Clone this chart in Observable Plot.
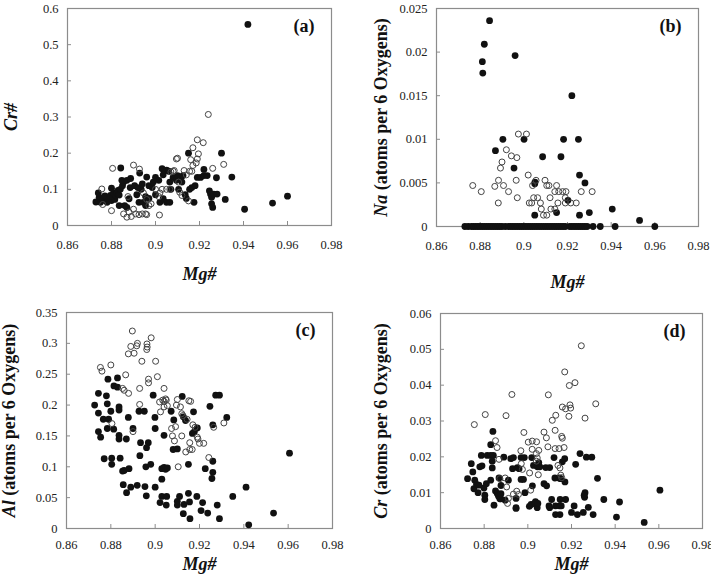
<!DOCTYPE html>
<html>
<head>
<meta charset="utf-8">
<script src="https://cdn.jsdelivr.net/npm/d3@7"></script>
<script src="https://cdn.jsdelivr.net/npm/@observablehq/plot@0.6"></script>
<style>
  body { margin: 0; background: #fff; }
  #chart { position: relative; width: 711px; height: 574px; overflow: hidden; background: #fff; }
  #chart svg { position: absolute; overflow: visible; }
</style>
</head>
<body>
<div id="chart"></div>
<script>
// Shared Mg# axis
const mgTicks = [0.86, 0.88, 0.9, 0.92, 0.94, 0.96, 0.98];

// (a) Cr# vs Mg#  — [Mg#, Cr#]
const crNumTicks = [0, 0.1, 0.2, 0.3, 0.4, 0.5, 0.6];
const crNumFilled = [
  [0.8729,0.065],[0.8744,0.078],[0.875,0.064],[0.874,0.09],[0.876,0.07],[0.877,0.082],[0.878,0.064],
  [0.879,0.074],[0.8795,0.083],[0.880,0.069],[0.8805,0.078],[0.881,0.09],[0.8815,0.072],[0.882,0.083],
  [0.8825,0.09],[0.883,0.097],[0.8835,0.084],[0.884,0.1],[0.885,0.11],[0.8855,0.12],[0.880,0.103],
  [0.8842,0.159],[0.8835,0.055],[0.886,0.055],[0.887,0.05],[0.888,0.074],[0.8847,0.125],[0.887,0.125],
  [0.8887,0.13],[0.8885,0.105],[0.8905,0.11],[0.892,0.105],[0.8928,0.145],[0.8925,0.064],[0.8945,0.064],
  [0.8955,0.055],[0.896,0.134],[0.897,0.11],[0.8985,0.105],[0.899,0.12],[0.900,0.133],[0.9015,0.125],
  [0.903,0.157],[0.905,0.153],[0.9035,0.14],[0.902,0.064],[0.9035,0.074],[0.905,0.064],[0.9065,0.064],
  [0.908,0.133],[0.9095,0.125],[0.910,0.138],[0.9115,0.133],[0.912,0.12],[0.9125,0.138],[0.915,0.2],
  [0.9155,0.1],[0.9165,0.105],[0.9175,0.064],[0.919,0.133],[0.9205,0.133],[0.922,0.138],[0.922,0.155],
  [0.9235,0.138],[0.9245,0.096],[0.925,0.087],[0.9255,0.078],[0.9255,0.06],[0.926,0.05],[0.9265,0.087],
  [0.928,0.087],[0.9277,0.132],[0.93,0.2],[0.9317,0.072],[0.9347,0.134],[0.9405,0.045],[0.9532,0.062],
  [0.960,0.081],[0.942,0.556],[0.8955,0.08],[0.897,0.075],[0.9,0.085],[0.9065,0.12],[0.907,0.1],
  [0.9135,0.085],[0.914,0.075],[0.918,0.11],[0.9105,0.1],[0.8915,0.085],[0.8935,0.1],[0.894,0.115],[0.906,0.15]
];
const crNumOpen = [
  [0.924,0.307],[0.919,0.237],[0.9217,0.229],[0.917,0.215],[0.9195,0.198],[0.919,0.184],[0.9185,0.173],
  [0.916,0.182],[0.917,0.166],[0.9095,0.184],[0.910,0.186],[0.926,0.158],[0.931,0.169],[0.8805,0.158],
  [0.890,0.167],[0.8927,0.156],[0.8756,0.101],[0.876,0.058],[0.880,0.041],[0.8855,0.032],[0.887,0.023],
  [0.888,0.037],[0.889,0.025],[0.890,0.045],[0.891,0.032],[0.8925,0.030],[0.894,0.032],[0.8955,0.032],
  [0.896,0.030],[0.9018,0.029],[0.8875,0.08],[0.8945,0.09],[0.896,0.072],[0.897,0.055],[0.898,0.06],
  [0.900,0.1],[0.9015,0.08],[0.902,0.09],[0.903,0.1],[0.905,0.1],[0.9065,0.1],[0.907,0.148],[0.9085,0.152],
  [0.9105,0.12],[0.911,0.092],[0.912,0.083],[0.913,0.152],[0.914,0.14],[0.915,0.068],[0.9155,0.15],
  [0.9165,0.15],[0.908,0.15]
];

// (b) Na (atoms per 6 oxygens) vs Mg#
const naTicks = [0, 0.005, 0.01, 0.015, 0.02, 0.025];
const naFilled = [
  [0.8843,0.0236],[0.8819,0.0209],[0.881,0.0189],[0.8812,0.0176],[0.896,0.0196],[0.922,0.015],
  [0.8904,0.01],[0.9001,0.01],[0.9182,0.01],[0.925,0.01],[0.887,0.0087],[0.9086,0.008],[0.917,0.008],
  [0.8955,0.0067],[0.9255,0.0059],[0.928,0.005],[0.9051,0.0051],[0.905,0.0049],[0.9202,0.003],
  [0.915,0.0016],[0.905,0.0013],[0.9255,0.0013],[0.930,0.0016],[0.9405,0.002],[0.953,0.0007],
  [0.873,0],[0.8745,0],[0.876,0],[0.877,0],[0.878,0],[0.879,0],[0.880,0],[0.881,0],[0.882,0],[0.883,0],
  [0.884,0],[0.885,0],[0.886,0],[0.887,0],[0.888,0],[0.889,0],[0.890,0],[0.8915,0],[0.893,0],[0.894,0],
  [0.895,0],[0.896,0],[0.897,0],[0.898,0],[0.899,0],[0.900,0],[0.901,0],[0.902,0],[0.903,0],[0.904,0],
  [0.905,0],[0.906,0],[0.907,0],[0.908,0],[0.909,0],[0.910,0],[0.911,0],[0.912,0],[0.913,0],[0.914,0],
  [0.915,0],[0.916,0],[0.917,0],[0.918,0],[0.919,0],[0.921,0],[0.922,0],[0.923,0],[0.924,0],[0.925,0],
  [0.926,0],[0.927,0],[0.928,0],[0.929,0],[0.9317,0],[0.935,0],[0.9418,0],[0.960,0]
];
const naOpen = [
  [0.8975,0.0106],[0.9012,0.0106],[0.892,0.0088],[0.8943,0.0081],[0.8968,0.0079],[0.890,0.0074],
  [0.8893,0.0067],[0.8884,0.0053],[0.8867,0.0046],[0.8907,0.0047],[0.893,0.004],[0.8766,0.0047],
  [0.8805,0.004],[0.8883,0.0027],[0.8965,0.0053],[0.897,0.0033],[0.902,0.0059],[0.9025,0.0027],
  [0.9036,0.0027],[0.904,0.0047],[0.9045,0.0033],[0.9063,0.0033],[0.9056,0.0053],[0.9076,0.0027],
  [0.908,0.002],[0.909,0.0013],[0.9105,0.0013],[0.9097,0.0053],[0.9105,0.0047],[0.9115,0.0047],
  [0.912,0.0033],[0.9124,0.002],[0.9142,0.002],[0.915,0.0047],[0.9142,0.004],[0.9156,0.0027],
  [0.916,0.004],[0.9178,0.004],[0.9193,0.004],[0.919,0.0033],[0.919,0.0027],[0.9215,0.0027],
  [0.924,0.0027],[0.9263,0.004],[0.9313,0.004]
];

// (c) Al (atoms per 6 oxygens) vs Mg#
const alTicks = [0, 0.05, 0.1, 0.15, 0.2, 0.25, 0.3, 0.35];
const alFilled = [
  [0.8727,0.2],[0.8744,0.219],[0.8744,0.187],[0.8744,0.157],[0.8754,0.148],[0.8766,0.177],[0.878,0.215],
  [0.8787,0.242],[0.8784,0.202],[0.879,0.177],[0.8784,0.162],[0.877,0.113],[0.88,0.19],[0.8804,0.114],
  [0.8804,0.104],[0.8814,0.231],[0.883,0.229],[0.883,0.244],[0.8813,0.161],[0.8837,0.197],[0.8837,0.192],
  [0.8837,0.151],[0.8837,0.145],[0.8842,0.114],[0.8853,0.093],[0.886,0.094],[0.8882,0.097],[0.887,0.145],
  [0.8879,0.18],[0.8856,0.071],[0.8871,0.058],[0.889,0.067],[0.89,0.162],[0.8919,0.07],[0.8927,0.19],
  [0.8951,0.19],[0.8934,0.139],[0.8969,0.139],[0.8931,0.118],[0.8961,0.131],[0.8958,0.1],[0.898,0.104],
  [0.8954,0.068],[0.896,0.053],[0.8991,0.216],[0.8999,0.18],[0.90,0.162],[0.90,0.067],[0.9022,0.042],
  [0.903,0.052],[0.9052,0.052],[0.903,0.08],[0.903,0.097],[0.904,0.099],[0.9047,0.096],[0.9055,0.098],
  [0.904,0.151],[0.905,0.038],[0.9072,0.19],[0.9084,0.176],[0.9081,0.128],[0.910,0.129],[0.91,0.044],
  [0.91,0.038],[0.911,0.052],[0.9122,0.214],[0.9127,0.181],[0.9137,0.175],[0.913,0.039],[0.9127,0.024],
  [0.915,0.104],[0.915,0.057],[0.9155,0.043],[0.9157,0.016],[0.9173,0.189],[0.9168,0.154],[0.9177,0.157],
  [0.919,0.163],[0.9188,0.052],[0.9207,0.029],[0.9214,0.042],[0.9226,0.097],[0.9237,0.025],[0.9247,0.198],
  [0.926,0.168],[0.926,0.109],[0.926,0.091],[0.9256,0.081],[0.9273,0.216],[0.929,0.216],[0.928,0.038],
  [0.929,0.016],[0.9323,0.18],[0.935,0.052],[0.941,0.067],[0.9422,0.006],[0.9534,0.025],[0.9606,0.122]
];
const alOpen = [
  [0.8897,0.32],[0.8982,0.309],[0.892,0.30],[0.8917,0.296],[0.889,0.295],[0.8905,0.284],[0.8879,0.283],
  [0.8963,0.299],[0.8964,0.294],[0.8962,0.29],[0.894,0.271],[0.9002,0.271],[0.901,0.246],[0.8753,0.261],
  [0.876,0.255],[0.88,0.265],[0.8867,0.249],[0.897,0.242],[0.897,0.236],[0.8853,0.227],[0.886,0.224],
  [0.893,0.227],[0.888,0.219],[0.904,0.227],[0.893,0.201],[0.8805,0.17],[0.890,0.157],[0.902,0.205],
  [0.9034,0.208],[0.904,0.206],[0.9047,0.21],[0.905,0.208],[0.9024,0.189],[0.904,0.197],[0.9055,0.199],
  [0.91,0.209],[0.9114,0.197],[0.9096,0.2],[0.912,0.186],[0.9125,0.183],[0.9144,0.177],[0.9152,0.207],
  [0.916,0.206],[0.9074,0.162],[0.9092,0.165],[0.9078,0.15],[0.9087,0.142],[0.912,0.15],[0.9138,0.124],
  [0.9156,0.128],[0.9167,0.128],[0.9156,0.139],[0.917,0.168],[0.918,0.164],[0.919,0.148],[0.9193,0.145],
  [0.92,0.138],[0.9219,0.138],[0.9242,0.115],[0.9264,0.164],[0.931,0.171],[0.9104,0.1]
];

// (d) Cr (atoms per 6 oxygens) vs Mg#
const crTicks = [0, 0.01, 0.02, 0.03, 0.04, 0.05, 0.06];
const crFilled = [
  [0.8724,0.0139],[0.8741,0.0181],[0.8748,0.0158],[0.8757,0.0135],[0.8753,0.0111],[0.8765,0.0123],
  [0.8776,0.0121],[0.878,0.0172],[0.879,0.0175],[0.8787,0.0204],[0.8772,0.01],[0.8799,0.0113],
  [0.8803,0.0093],[0.8803,0.0081],[0.881,0.0125],[0.8814,0.0204],[0.883,0.0204],[0.8842,0.0204],
  [0.883,0.0234],[0.884,0.0271],[0.8837,0.0188],[0.8837,0.0169],[0.883,0.0135],[0.8845,0.0065],
  [0.8852,0.0105],[0.886,0.0098],[0.8866,0.0094],[0.8872,0.0083],[0.8876,0.0083],[0.8866,0.009],
  [0.8868,0.0141],[0.8877,0.012],[0.8877,0.0097],[0.889,0.0199],[0.8896,0.0079],[0.8911,0.0135],
  [0.8922,0.0195],[0.8934,0.0198],[0.893,0.0167],[0.8946,0.0084],[0.8946,0.0058],[0.8946,0.0056],
  [0.8952,0.017],[0.896,0.0167],[0.8969,0.0137],[0.898,0.0137],[0.8969,0.0198],[0.8984,0.0198],
  [0.8987,0.01],[0.9007,0.0062],[0.9015,0.0067],[0.9018,0.0198],[0.9026,0.0176],[0.9021,0.0119],
  [0.9031,0.007],[0.9035,0.0075],[0.9043,0.0058],[0.9046,0.007],[0.9044,0.0172],[0.9055,0.0172],
  [0.905,0.0184],[0.9074,0.0125],[0.9086,0.0119],[0.9082,0.017],[0.91,0.017],[0.9097,0.0063],
  [0.91,0.0058],[0.9109,0.0081],[0.912,0.0198],[0.9124,0.0141],[0.9143,0.0141],[0.915,0.0139],
  [0.9127,0.0063],[0.9145,0.0063],[0.9153,0.0063],[0.9127,0.0039],[0.9147,0.0039],[0.9148,0.0081],
  [0.9173,0.0081],[0.9158,0.0186],[0.9169,0.0195],[0.917,0.013],[0.92,0.0045],[0.9212,0.0063],
  [0.9219,0.0179],[0.9227,0.0039],[0.9239,0.0209],[0.926,0.0087],[0.9262,0.01],[0.9258,0.0093],
  [0.9254,0.0045],[0.9268,0.0199],[0.9293,0.0199],[0.9277,0.0059],[0.9299,0.0039],[0.9319,0.014],
  [0.9348,0.0081],[0.9406,0.0032],[0.942,0.0074],[0.9533,0.0017],[0.9605,0.0107]
];
const crOpen = [
  [0.9245,0.051],[0.9169,0.0437],[0.9216,0.0407],[0.919,0.0399],[0.9311,0.0348],[0.8927,0.0374],
  [0.9094,0.0373],[0.8805,0.0318],[0.890,0.0315],[0.8755,0.029],[0.9158,0.0339],[0.9173,0.0334],
  [0.9193,0.0345],[0.9196,0.0336],[0.9188,0.0313],[0.9128,0.0316],[0.9112,0.0302],[0.9125,0.0274],
  [0.9262,0.0308],[0.9074,0.0269],[0.9085,0.0253],[0.8982,0.0268],[0.9002,0.0241],[0.902,0.0244],
  [0.904,0.0242],[0.8852,0.0245],[0.8859,0.0226],[0.8968,0.0217],[0.902,0.0221],[0.905,0.0218],
  [0.9092,0.0228],[0.9125,0.0223],[0.9143,0.0223],[0.9166,0.0226],[0.9155,0.0257],[0.9158,0.0252],
  [0.8868,0.0193],[0.9039,0.0209],[0.9043,0.0197],[0.9039,0.0188],[0.9138,0.0176],[0.9147,0.0169],
  [0.897,0.0181],[0.8975,0.0165],[0.9008,0.0155],[0.9048,0.015],[0.8872,0.0139],[0.8896,0.0141],
  [0.8903,0.0116],[0.8911,0.0084],[0.8907,0.007],[0.8934,0.0096],[0.8949,0.0104],[0.8957,0.0095],
  [0.9151,0.0149],[0.9155,0.0142],[0.9013,0.0107]
];

const fmt = d => d === 0 ? "0" : String(+d.toFixed(4));
const FONT = "'Liberation Serif', 'Times New Roman', serif";

function panel(o) {
  const innerW = o.width - o.mL - o.mR;
  const innerH = o.height - o.mT - o.mB;
  const svg = Plot.plot({
    width: o.width,
    height: o.height,
    marginLeft: o.mL, marginRight: o.mR, marginTop: o.mT, marginBottom: o.mB,
    style: { fontFamily: FONT, fontSize: "12.5px", color: "#222", background: "transparent", overflow: "visible" },
    x: {
      domain: [0.86, 0.98], ticks: mgTicks, tickFormat: fmt, tickSize: 0, tickPadding: o.xTickPadding,
      label: "Mg#", labelAnchor: "center", labelArrow: false, labelOffset: o.xLabelOffset
    },
    y: {
      domain: [0, o.yTicks[o.yTicks.length - 1]], ticks: o.yTicks, tickFormat: fmt, tickSize: 0, tickPadding: 9,
      label: o.yLabel, labelAnchor: "center", labelArrow: false, labelOffset: o.yLabelOffset
    },
    marks: [
      Plot.frame({ stroke: "#8c8c8c", strokeWidth: 1.2 }),
      Plot.ruleX(mgTicks, { stroke: "#8c8c8c", insetTop: innerH - 4 }),
      Plot.ruleY(o.yTicks, { stroke: "#8c8c8c", insetRight: innerW - 4 }),
      Plot.dot(o.filled, { x: d => d[0], y: d => d[1], r: 3.4, fill: "#111", stroke: "none" }),
      Plot.dot(o.open, { x: d => d[0], y: d => d[1], r: 3, fill: "none", stroke: "#444", strokeWidth: 1 }),
      Plot.text([o.letter], { text: d => d, frameAnchor: "top-right", textAnchor: "end", lineAnchor: "top",
        dx: -17, dy: 11, fontSize: 18, fontWeight: "bold", fill: "#111" })
    ]
  });
  svg.style.left = o.left + "px";
  svg.style.top = o.top + "px";
  // Axis titles: bold, with the element symbol in italics
  svg.querySelectorAll("text").forEach(t => {
    const s = t.textContent.trim();
    if (s.startsWith("Mg#") || s.startsWith(o.yLabel)) {
      const label = s.startsWith("Mg#") ? "Mg#" : o.yLabel;
      t.setAttribute("font-size", 18);
      t.setAttribute("font-weight", "bold");
      t.style.fontSize = "18px";
      t.style.fontWeight = "bold";
      t.setAttribute("fill", "#111");
      while (t.firstChild) t.removeChild(t.firstChild);
      const ns = "http://www.w3.org/2000/svg";
      const italic = label === "Mg#" || !o.italicPart ? label : o.italicPart;
      const a = document.createElementNS(ns, "tspan");
      a.setAttribute("font-style", "italic");
      a.textContent = italic;
      t.appendChild(a);
      if (label.length > italic.length) {
        const b = document.createElementNS(ns, "tspan");
        b.textContent = label.slice(italic.length);
        t.appendChild(b);
      }
    }
  });
  document.getElementById("chart").appendChild(svg);
}

panel({ left: 0, top: 0, width: 355, height: 290, mL: 67, mR: 24, mT: 8, mB: 65,
  yTicks: crNumTicks, yLabel: "Cr#", italicPart: null, letter: "(a)",
  filled: crNumFilled, open: crNumOpen, xTickPadding: 15, xLabelOffset: 54, yLabelOffset: 63 });
panel({ left: 355, top: 0, width: 356, height: 290, mL: 81, mR: 13, mT: 8, mB: 64,
  yTicks: naTicks, yLabel: "Na (atoms per 6 Oxygens)", italicPart: "Na", letter: "(b)",
  filled: naFilled, open: naOpen, xTickPadding: 15, xLabelOffset: 61, yLabelOffset: 62 });
panel({ left: 0, top: 287, width: 355, height: 287, mL: 66, mR: 23, mT: 25, mB: 46,
  yTicks: alTicks, yLabel: "Al (atoms per 6 Oxygens)", italicPart: "Al", letter: "(c)",
  filled: alFilled, open: alOpen, xTickPadding: 12, xLabelOffset: 41, yLabelOffset: 64 });
panel({ left: 355, top: 287, width: 356, height: 287, mL: 85, mR: 9, mT: 26, mB: 46,
  yTicks: crTicks, yLabel: "Cr (atoms per 6 Oxygens)", italicPart: "Cr", letter: "(d)",
  filled: crFilled, open: crOpen, xTickPadding: 12, xLabelOffset: 41, yLabelOffset: 66 });
</script>
</body>
</html>
